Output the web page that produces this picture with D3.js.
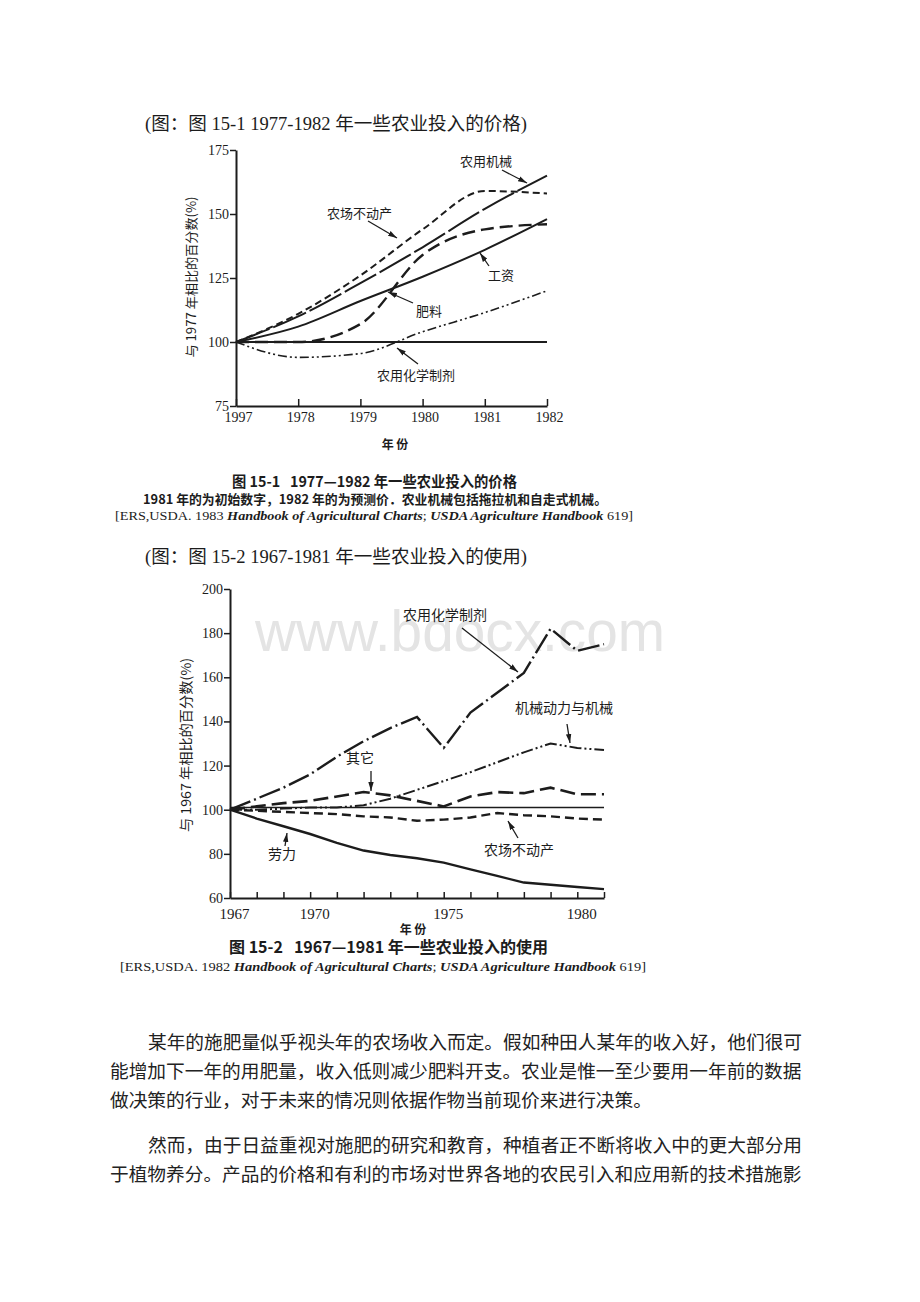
<!DOCTYPE html>
<html><head><meta charset="utf-8">
<script src="https://cdn.jsdelivr.net/npm/d3@7"></script>
<style>
body{margin:0;background:#fff;}
svg{display:block;}
text{white-space:pre;}
</style></head>
<body>
<svg id="c" width="920" height="1302"></svg>
<script>
// ---------------- DATA ----------------
// Figure 15-1 (prices, % of 1977)
const years1 = [1977, 1978, 1979, 1980, 1981, 1982];
const xTickLabels1 = ["1997", "1978", "1979", "1980", "1981", "1982"];
const yTicks1 = [75, 100, 125, 150, 175];
const machinery1 = [100, 110, 123, 137, 152, 165];     // 农用机械
const realEstate1 = [100, 111, 126, 144, 159, 158];    // 农场不动产
const wages1 = [100, 106, 116, 125.5, 136, 148];       // 工资
const fertilizer1 = [100, 100, 107, 134, 144, 146];    // 肥料
const chemicals1 = [100, 94, 95.5, 104, 111.5, 120];   // 农用化学制剂
const baseline1 = [100, 100, 100, 100, 100, 100];

// Figure 15-2 (use, % of 1967)
const years2 = [1967, 1968, 1969, 1970, 1971, 1972, 1973, 1974, 1975, 1976, 1977, 1978, 1979, 1980, 1981];
const xTickValues2 = [1967, 1970, 1975, 1980];
const yTicks2 = [60, 80, 100, 120, 140, 160, 180, 200];
const chemicals2 = [100, 105, 110, 116, 124, 131, 137, 142, 128, 144, 153, 162, 182, 172, 175];      // 农用化学制剂
const machinery2 = [100, 100, 100.5, 101, 101, 102, 105, 109, 113, 117, 121.5, 126, 130, 128, 127]; // 机械动力与机械
const others2 = [100, 101.5, 103, 104, 106, 108, 106.5, 104, 101.5, 106, 108, 107.5, 110, 107, 107]; // 其它
const realEstate2 = [100, 99.5, 99, 98.5, 98, 97, 96.5, 95, 95.5, 96.5, 98.5, 97.5, 97, 96, 95.5];  // 农场不动产
const labor2 = [100, 96, 92.5, 89, 85, 81.5, 79.5, 78, 76, 73, 70, 67, 66, 65, 64];               // 劳力
const baseline2 = [101, 101, 101, 101, 101, 101, 101, 101, 101, 101, 101, 101, 101, 101, 101];

// Texts
const title1 = "(图：图 15-1 1977-1982 年一些农业投入的价格)";
const title2 = "(图：图 15-2 1967-1981 年一些农业投入的使用)";
const paragraphLines = [
  {t: "某年的施肥量似乎视头年的农场收入而定。假如种田人某年的收入好，他们很可", indent: true},
  {t: "能增加下一年的用肥量，收入低则减少肥料开支。农业是惟一至少要用一年前的数据", indent: false},
  {t: "做决策的行业，对于未来的情况则依据作物当前现价来进行决策。", indent: false},
  {t: "然而，由于日益重视对施肥的研究和教育，种植者正不断将收入中的更大部分用", indent: true},
  {t: "于植物养分。产品的价格和有利的市场对世界各地的农民引入和应用新的技术措施影", indent: false}
];

// ---------------- DRAW ----------------
const ink = "#1c1c1c";
const serif = "'Liberation Serif','Times New Roman','Noto Sans CJK SC',serif";
const cjk = "'Noto Sans CJK SC','Liberation Serif',sans-serif";
const svg = d3.select("#c");

const defs = svg.append("defs");
defs.append("marker").attr("id", "arr").attr("viewBox", "0 0 10 6")
  .attr("refX", 10).attr("refY", 3).attr("markerWidth", 9).attr("markerHeight", 6)
  .attr("markerUnits", "userSpaceOnUse").attr("orient", "auto")
  .append("path").attr("d", "M0,0 L10,3 L0,6 Z").attr("fill", ink);

// watermark
svg.append("text").attr("x", 255).attr("y", 651)
  .attr("font-family", "'Liberation Sans',Arial,sans-serif").attr("font-size", 58)
  .attr("fill", "#e4e4e4").attr("textLength", 410).attr("lengthAdjust", "spacingAndGlyphs")
  .text("www.bdocx.com");

function label(g, s, x, y, o = {}) {
  const t = g.append("text").attr("x", x).attr("y", y)
    .attr("dominant-baseline", "central")
    .attr("font-family", o.family || cjk)
    .attr("font-size", o.size || 13)
    .attr("font-weight", o.weight || "normal")
    .attr("fill", o.fill || ink)
    .attr("text-anchor", o.anchor || "start");
  if (o.len) t.attr("textLength", o.len).attr("lengthAdjust", "spacingAndGlyphs");
  if (o.transform) t.attr("transform", o.transform);
  t.text(s);
  return t;
}
function arrow(g, a, b) {
  g.append("line").attr("x1", a[0]).attr("y1", a[1]).attr("x2", b[0]).attr("y2", b[1])
    .attr("stroke", ink).attr("stroke-width", 1.3).attr("marker-end", "url(#arr)");
}
function styleAxis(ax, size, w) {
  ax.attr("font-family", serif).attr("font-size", size);
  ax.selectAll("text").attr("fill", ink);
  ax.selectAll("line").attr("stroke", ink).attr("stroke-width", 1.5);
  ax.select(".domain").attr("stroke", ink).attr("stroke-width", w);
}

// ===== Chart 1 =====
label(svg, title1, 145, 123, {family: serif, size: 18.7, len: 382});
const g1 = svg.append("g");
const x1 = d3.scaleLinear().domain([1977, 1982]).range([236, 547]);
const y1 = d3.scaleLinear().domain([75, 175]).range([406, 150]);

const ax1 = g1.append("g").attr("transform", "translate(0,406)")
  .call(d3.axisBottom(x1).tickValues(years1).tickFormat((d, i) => xTickLabels1[i])
    .tickSizeInner(-7).tickSizeOuter(0).tickPadding(6));
styleAxis(ax1, 14, 2);
ax1.selectAll(".tick text").attr("dx", 2);
const ay1 = g1.append("g").attr("transform", "translate(236,0)")
  .call(d3.axisLeft(y1).tickValues(yTicks1).tickSize(6).tickSizeOuter(0).tickPadding(1));
styleAxis(ay1, 14, 2);

const line1 = d3.line().x((d, i) => x1(years1[i])).y(d => y1(d)).curve(d3.curveMonotoneX);
const series1 = [
  {v: baseline1, dash: null, w: 2},
  {v: chemicals1, dash: "9,3,2,3,2,3", w: 1.6},
  {v: fertilizer1, dash: "13,6", w: 2.4},
  {v: wages1, dash: null, w: 2},
  {v: machinery1, dash: "36,4", w: 2},
  {v: realEstate1, dash: "7,4", w: 2}
];
series1.forEach(s => {
  g1.append("path").attr("d", line1(s.v)).attr("fill", "none").attr("stroke", ink)
    .attr("stroke-width", s.w).attr("stroke-dasharray", s.dash);
});
label(g1, "农用机械", 460, 160, {size: 13});
arrow(g1, [502, 170], [527, 183]);
label(g1, "农场不动产", 327, 212, {size: 13});
arrow(g1, [368, 221], [397, 238]);
label(g1, "工资", 488, 274, {size: 13});
arrow(g1, [489, 266], [480, 253]);
label(g1, "肥料", 416, 310, {size: 13});
arrow(g1, [413, 303], [388, 292]);
label(g1, "农用化学制剂", 377, 374, {size: 13});
arrow(g1, [418, 364], [397, 348]);
label(g1, "年 份", 395, 443, {size: 12, weight: "bold", anchor: "middle"});
label(g1, "与 1977 年相比的百分数(%)", 0, 0, {size: 13, anchor: "middle", len: 161, transform: "translate(190,277) rotate(-90)"});

// captions 1
label(svg, "图 15-1   1977—1982 年一些农业投入的价格", 232, 480, {size: 15, weight: "bold", len: 285});
label(svg, "1981 年的为初始数字，1982 年的为预测价．农业机械包括拖拉机和自走式机械。", 143, 498, {size: 13, weight: "bold", len: 464});
function ref(y, x, len, year) {
  const t = svg.append("text").attr("x", x).attr("y", y).attr("dominant-baseline", "central")
    .attr("font-family", serif).attr("font-size", 13.5).attr("fill", ink)
    .attr("textLength", len).attr("lengthAdjust", "spacingAndGlyphs");
  t.append("tspan").text("[ERS,USDA. " + year + " ");
  t.append("tspan").attr("font-style", "italic").attr("font-weight", "bold").text("Handbook of Agricultural Charts");
  t.append("tspan").text("; ");
  t.append("tspan").attr("font-style", "italic").attr("font-weight", "bold").text("USDA Agriculture Handbook");
  t.append("tspan").text(" 619]");
}
ref(515, 115, 518, "1983");

// ===== Chart 2 =====
label(svg, title2, 145, 556, {family: serif, size: 18.7, len: 382});
const g2 = svg.append("g");
const x2 = d3.scaleLinear().domain([1967, 1981]).range([230, 604]);
const y2 = d3.scaleLinear().domain([60, 200]).range([898, 589]);

const ax2 = g2.append("g").attr("transform", "translate(0,898)")
  .call(d3.axisBottom(x2).tickValues(years2).tickFormat(d => xTickValues2.includes(d) ? String(d) : "")
    .tickSizeInner(-6).tickSizeOuter(0).tickPadding(10));
styleAxis(ax2, 15, 2);
ax2.selectAll(".tick text").attr("dx", 4);
const ay2 = g2.append("g").attr("transform", "translate(230,0)")
  .call(d3.axisLeft(y2).tickValues(yTicks2).tickSize(6).tickSizeOuter(0).tickPadding(1));
styleAxis(ay2, 14, 2);

const line2 = d3.line().x((d, i) => x2(years2[i])).y(d => y2(d));
const series2 = [
  {v: baseline2, dash: null, w: 1.3},
  {v: labor2, dash: null, w: 2.4},
  {v: realEstate2, dash: "9,5", w: 2.4},
  {v: others2, dash: "15,6", w: 2.6},
  {v: machinery2, dash: "12,3,2,3,2,3", w: 2},
  {v: chemicals2, dash: "22,4,2,4", w: 2.4}
];
series2.forEach(s => {
  g2.append("path").attr("d", line2(s.v)).attr("fill", "none").attr("stroke", ink)
    .attr("stroke-width", s.w).attr("stroke-dasharray", s.dash);
});
label(g2, "农用化学制剂", 403, 614, {size: 14});
arrow(g2, [462, 628], [518, 672]);
label(g2, "机械动力与机械", 515, 707, {size: 14});
arrow(g2, [567, 724], [570, 743]);
label(g2, "其它", 346, 757, {size: 14});
arrow(g2, [371, 771], [371, 791]);
label(g2, "农场不动产", 484, 849, {size: 14});
arrow(g2, [518, 838], [508, 821]);
label(g2, "劳力", 268, 853, {size: 14});
arrow(g2, [285, 846], [287, 833]);
label(g2, "年 份", 413, 928, {size: 12, weight: "bold", anchor: "middle"});
label(g2, "与 1967 年相比的百分数(%)", 0, 0, {size: 13.5, anchor: "middle", len: 174, transform: "translate(185,745) rotate(-90)"});

// captions 2
label(svg, "图 15-2   1967—1981 年一些农业投入的使用", 229, 946, {size: 16, weight: "bold", len: 319});
ref(966, 120, 526, "1982");

// ===== Paragraphs =====
const lineY = [1040, 1069, 1098, 1143, 1172];
paragraphLines.forEach((p, i) => {
  label(svg, p.t, p.indent ? 148 : 110, lineY[i], {size: 18.7, fill: "#222"});
});
</script>
</body></html>
